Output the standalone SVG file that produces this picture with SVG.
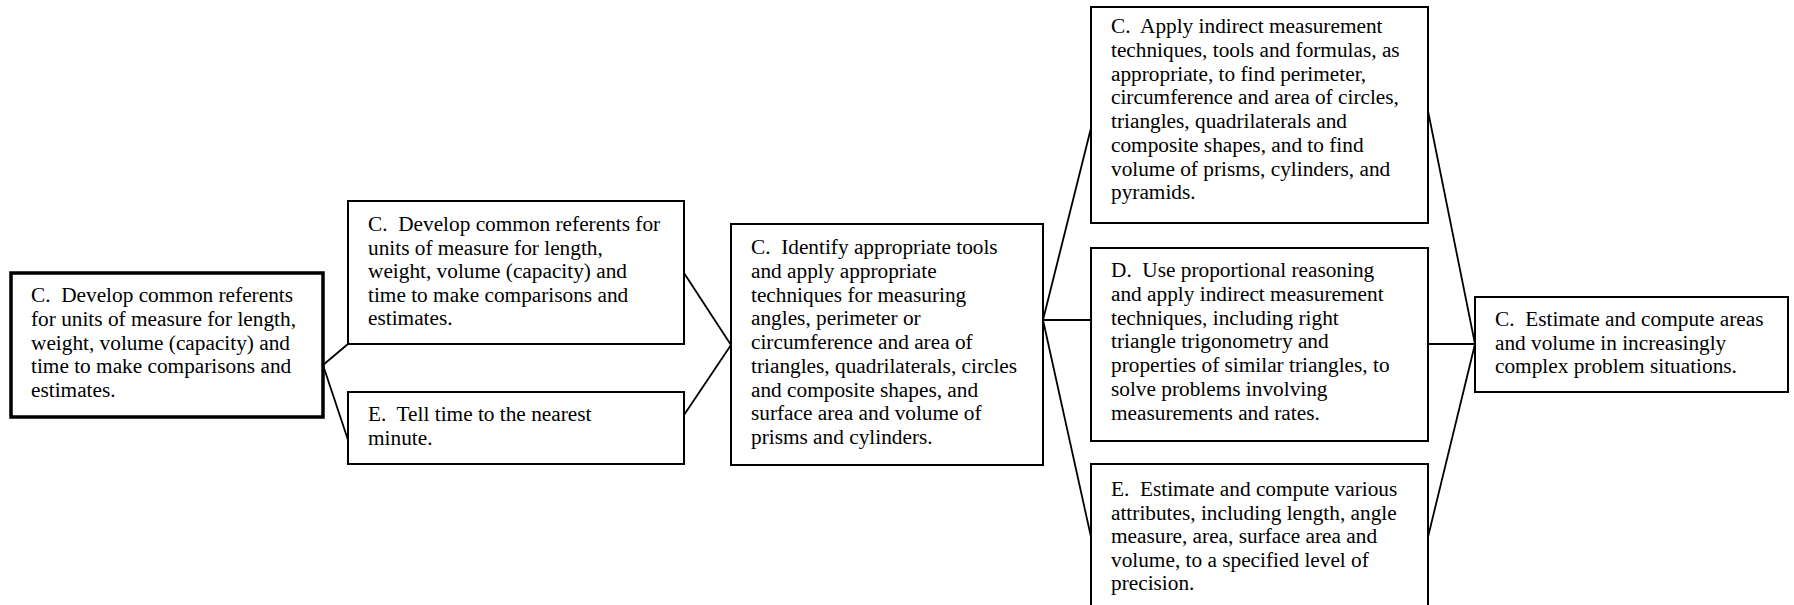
<svg xmlns="http://www.w3.org/2000/svg" width="1794" height="605" viewBox="0 0 1794 605">
<style>
.box{fill:#fff;stroke:#000;stroke-width:2}
.thick{stroke-width:3.5}
.t{font-family:"Liberation Serif","Times New Roman",serif;font-size:21.3px;fill:#000;white-space:pre}
.c{fill:none;stroke:#000;stroke-width:1.8}
</style>
<rect width="1794" height="605" fill="#fff"/>
<g id="connectors">
<line class="c" x1="323" y1="365" x2="348" y2="344"/>
<line class="c" x1="323" y1="365" x2="348" y2="440"/>
<line class="c" x1="684" y1="273" x2="731" y2="345"/>
<line class="c" x1="684" y1="415" x2="731" y2="345"/>
<line class="c" x1="1043" y1="320" x2="1091" y2="128"/>
<line class="c" x1="1043" y1="320" x2="1091" y2="320"/>
<line class="c" x1="1043" y1="320" x2="1091" y2="537"/>
<line class="c" x1="1428" y1="111" x2="1475" y2="344"/>
<line class="c" x1="1428" y1="344" x2="1475" y2="344"/>
<line class="c" x1="1428" y1="537" x2="1475" y2="344"/>
</g>
<g id="n1">
<rect class="box thick" x="11" y="273" width="312" height="144"/>
<text class="t" x="31" y="302" xml:space="preserve">C.  Develop common referents</text>
<text class="t" x="31" y="325.75">for units of measure for length,</text>
<text class="t" x="31" y="349.5">weight, volume (capacity) and</text>
<text class="t" x="31" y="373.25">time to make comparisons and</text>
<text class="t" x="31" y="397">estimates.</text>
</g>
<g id="n2">
<rect class="box" x="348" y="201" width="336" height="143"/>
<text class="t" x="368" y="231" xml:space="preserve">C.  Develop common referents for</text>
<text class="t" x="368" y="254.5">units of measure for length,</text>
<text class="t" x="368" y="278">weight, volume (capacity) and</text>
<text class="t" x="368" y="301.5">time to make comparisons and</text>
<text class="t" x="368" y="325">estimates.</text>
</g>
<g id="n3">
<rect class="box" x="348" y="392" width="336" height="72"/>
<text class="t" x="368" y="421" xml:space="preserve">E.  Tell time to the nearest</text>
<text class="t" x="368" y="444.5">minute.</text>
</g>
<g id="n4">
<rect class="box" x="731" y="224" width="312" height="241"/>
<text class="t" x="751" y="254" xml:space="preserve">C.  Identify appropriate tools</text>
<text class="t" x="751" y="277.75">and apply appropriate</text>
<text class="t" x="751" y="301.5">techniques for measuring</text>
<text class="t" x="751" y="325.25">angles, perimeter or</text>
<text class="t" x="751" y="349">circumference and area of</text>
<text class="t" x="751" y="372.75">triangles, quadrilaterals, circles</text>
<text class="t" x="751" y="396.5">and composite shapes, and</text>
<text class="t" x="751" y="420.25">surface area and volume of</text>
<text class="t" x="751" y="444">prisms and cylinders.</text>
</g>
<g id="n5">
<rect class="box" x="1091" y="7" width="337" height="216"/>
<text class="t" x="1111" y="33" xml:space="preserve">C.  Apply indirect measurement</text>
<text class="t" x="1111" y="56.75">techniques, tools and formulas, as</text>
<text class="t" x="1111" y="80.5">appropriate, to find perimeter,</text>
<text class="t" x="1111" y="104.25">circumference and area of circles,</text>
<text class="t" x="1111" y="128">triangles, quadrilaterals and</text>
<text class="t" x="1111" y="151.75">composite shapes, and to find</text>
<text class="t" x="1111" y="175.5">volume of prisms, cylinders, and</text>
<text class="t" x="1111" y="199.25">pyramids.</text>
</g>
<g id="n6">
<rect class="box" x="1091" y="248" width="337" height="193"/>
<text class="t" x="1111" y="277" xml:space="preserve">D.  Use proportional reasoning</text>
<text class="t" x="1111" y="300.75">and apply indirect measurement</text>
<text class="t" x="1111" y="324.5">techniques, including right</text>
<text class="t" x="1111" y="348.25">triangle trigonometry and</text>
<text class="t" x="1111" y="372">properties of similar triangles, to</text>
<text class="t" x="1111" y="395.75">solve problems involving</text>
<text class="t" x="1111" y="419.5">measurements and rates.</text>
</g>
<g id="n7">
<rect class="box" x="1091" y="464" width="337" height="160"/>
<text class="t" x="1111" y="496" xml:space="preserve">E.  Estimate and compute various</text>
<text class="t" x="1111" y="519.5">attributes, including length, angle</text>
<text class="t" x="1111" y="543">measure, area, surface area and</text>
<text class="t" x="1111" y="566.5">volume, to a specified level of</text>
<text class="t" x="1111" y="590">precision.</text>
</g>
<g id="n8">
<rect class="box" x="1475" y="297" width="313" height="95"/>
<text class="t" x="1495" y="326" xml:space="preserve">C.  Estimate and compute areas</text>
<text class="t" x="1495" y="349.5">and volume in increasingly</text>
<text class="t" x="1495" y="373">complex problem situations.</text>
</g>
</svg>
